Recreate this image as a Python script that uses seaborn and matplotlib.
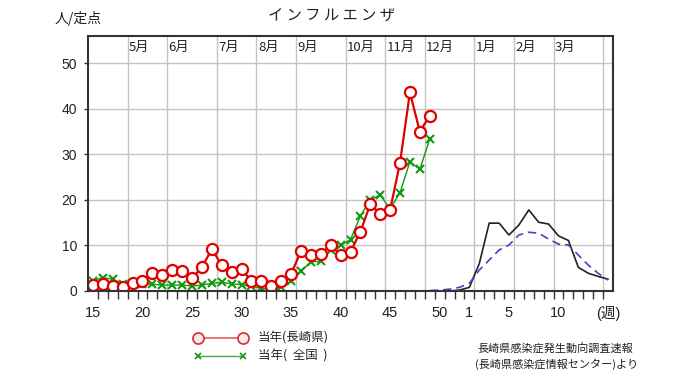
import matplotlib
matplotlib.use("Agg")
import matplotlib.pyplot as plt
import matplotlib.transforms as mtrans
from matplotlib.lines import Line2D
import seaborn as sns
import pandas as pd

# 今シーズン (15週〜49週)
WEEKS_NOW = list(range(15, 50))
NAGASAKI = [1.3, 1.5, 1.1, 0.8, 1.8, 2.2, 4.0, 3.5, 4.6, 4.5, 2.8, 5.2, 9.2, 5.7,
            4.2, 4.8, 2.2, 2.1, 1.2, 2.1, 3.7, 8.8, 7.9, 8.2, 10.1, 7.9, 8.6, 13.0,
            19.1, 16.9, 17.8, 28.2, 43.6, 35.0, 38.5]
ZENKOKU = [2.3, 2.9, 2.6, 1.6, 1.5, 1.6, 1.5, 1.3, 1.3, 1.3, 1.1, 1.3, 1.7, 1.9,
           1.6, 1.4, 1.0, 0.6, 0.3, 0.9, 2.1, 4.3, 6.4, 6.5, 9.0, 10.0, 11.3, 16.5,
           20.0, 21.1, 18.0, 21.6, 28.4, 26.7, 33.4]

# 49週〜翌年15週 (黒線・青破線)
WEEKS_PREV = [49, 50, 51, 52] + list(range(1, 16))
YEAR_PREV = [0] * 4 + [1] * 15
PREV_SEASON = [0.0, 0.0, 0.0, 0.2, 0.8, 6.0, 14.9, 14.9, 12.3, 14.5, 17.8, 15.1,
               14.7, 12.1, 11.1, 5.2, 3.9, 3.2, 2.6]
AVERAGE = [0.1, 0.2, 0.4, 0.8, 1.7, 4.6, 6.8, 9.0, 10.1, 12.3, 12.9, 12.7,
           11.4, 10.3, 10.1, 7.9, 5.7, 3.9, 2.4]

MONTHS = ["5月", "6月", "7月", "8月", "9月", "10月", "11月", "12月", "1月", "2月", "3月"]
MONTH_START = [3.5, 7.5, 12.5, 16.5, 20.5, 25.5, 29.5, 33.5, 38.5, 42.5, 46.5, 51.5]
XTICK_WEEKS = [15, 20, 25, 30, 35, 40, 45, 50, 1, 5, 10, 15]
XTICK_YEAR = [0, 0, 0, 0, 0, 0, 0, 0, 1, 1, 1, 1]
XTICK_LABELS = ["15", "20", "25", "30", "35", "40", "45", "50", "1", "5", "10", "(週)"]
YTICKS = [0, 10, 20, 30, 40, 50]


def week_pos(w, year=0):
    """週番号を横軸の位置に変換 (15週=0, 翌年1週=38)"""
    return w - 15 + 52 * year


df_now = pd.DataFrame({"x": [week_pos(w) for w in WEEKS_NOW],
                       "nagasaki": NAGASAKI, "zenkoku": ZENKOKU})
df_prev = pd.DataFrame({"x": [week_pos(w, y) for w, y in zip(WEEKS_PREV, YEAR_PREV)],
                        "prev": PREV_SEASON, "avg": AVERAGE})

sns.set_theme(style="white")
plt.rcParams["font.family"] = ["Noto Sans CJK JP", "DejaVu Sans"]
NUM_FONT = ["Liberation Sans", "Noto Sans CJK JP"]

fig = plt.figure(figsize=(6.8, 3.82), dpi=100)
ax = fig.add_axes([88 / 680, 1 - 291 / 382, 525 / 680, 255 / 382])

# グリッド
for y in YTICKS[1:]:
    ax.axhline(y, color="#c4c4c4", lw=1.0, zorder=0)
for x in MONTH_START:
    ax.axvline(x, color="#c4c4c4", lw=1.0, zorder=0)

sns.lineplot(data=df_prev, x="x", y="prev", ax=ax, color="#222222", lw=1.2)
sns.lineplot(data=df_prev, x="x", y="avg", ax=ax, color="#4444bb", lw=1.2,
             linestyle=(0, (5, 3)))
sns.lineplot(data=df_now, x="x", y="zenkoku", ax=ax, color="#119911", lw=1.0,
             marker="x", markersize=5.5, markeredgewidth=1.5,
             markeredgecolor="#119911")
sns.lineplot(data=df_now, x="x", y="nagasaki", ax=ax, color="#e00000", lw=1.6,
             marker="o", markersize=8, markerfacecolor="white",
             markeredgecolor="#e00000", markeredgewidth=1.6)

ax.set_xlim(-0.5, 52.5)
ax.set_ylim(0, 56)
ax.set_xlabel("")
ax.set_ylabel("")

ax.set_xticks([week_pos(w, y) for w, y in zip(XTICK_WEEKS, XTICK_YEAR)])
ax.set_xticklabels(XTICK_LABELS, family=NUM_FONT, fontsize=10.5, color="#222222")
ax.set_xticks([i + 0.5 for i in range(52)], minor=True)
ax.tick_params(axis="x", which="major", length=0, pad=11)
ax.tick_params(axis="x", which="minor", length=6, width=1.0, color="#333333",
               direction="out", bottom=True)
ax.set_yticks(YTICKS)
ax.set_yticklabels([str(y) for y in YTICKS], family=NUM_FONT, fontsize=10,
                   color="#222222")
ax.tick_params(axis="y", length=3, width=1.0, color="#333333", left=True, pad=5)

for s in ax.spines.values():
    s.set_color("#333333")
    s.set_linewidth(1.5)

# 月ラベル
trans = mtrans.blended_transform_factory(ax.transData, ax.transAxes)
for m, x in zip(MONTHS, MONTH_START):
    ax.text(x + 0.15, 0.957, m, transform=trans, ha="left", va="center",
            fontsize=9.5, color="#222222")

fig.text(331 / 680, 1 - 16 / 382, "イ ン フ ル エ ン ザ", ha="center", va="center",
         fontsize=11, color="#222222")
fig.text(55 / 680, 1 - 19 / 382, "人/定点", ha="left", va="center",
         fontsize=10, color="#222222")

# 凡例
handles = [
    Line2D([], [], color="#e06060", lw=1.2, marker="o", markersize=8,
           markerfacecolor="#fde8e8", markeredgecolor="#d03030", markeredgewidth=1.2),
    Line2D([], [], color="#44aa44", lw=1.0, marker="x", markersize=5,
           markeredgecolor="#119911", markeredgewidth=1.2),
]
fig.legend(handles, ["当年(長崎県)", "当年(  全国  )"], loc="upper left",
           bbox_to_anchor=(194 / 680, 1 - 332 / 382), frameon=False, numpoints=2,
           fontsize=9, handlelength=4.2, handletextpad=0.9, labelspacing=0.4,
           borderpad=0, borderaxespad=0)

fig.text(477 / 680, 1 - 349 / 382, "長崎県感染症発生動向調査速報", ha="left",
         va="center", fontsize=8, color="#222222")
fig.text(475 / 680, 1 - 364 / 382, "(長崎県感染症情報センター)より", ha="left",
         va="center", fontsize=8, color="#222222")

fig.savefig("out.png", dpi=100)
